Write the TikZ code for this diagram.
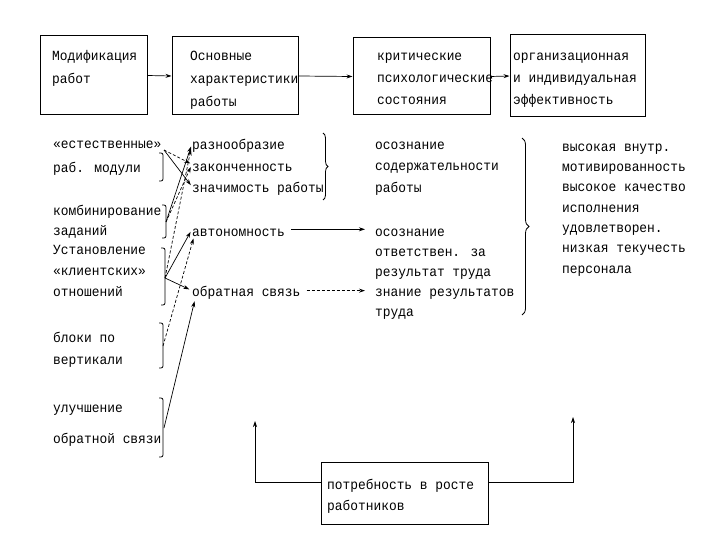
\documentclass[tikz,border=0pt]{standalone}
\usepackage{fontspec}
\newfontfamily\tw[FakeStretch=0.92]{Liberation Mono}
\newcommand{\fl}{\rule{0pt}{14pt}}
\usetikzlibrary{arrows.meta,decorations.pathreplacing}
\begin{document}
\begin{tikzpicture}[x=1pt,y=-1pt,
  txt/.style={anchor=north west, inner sep=0pt, align=left,
    font=\tw\fontsize{14}{#1}\selectfont},
  txt/.default=21,
  box/.style={draw, line width=1pt, inner sep=0pt},
  arr/.style={-{Stealth[length=6pt,width=4pt]}, line width=0.7pt},
  dsh/.style={dash pattern=on 3pt off 2pt},
  brk/.style={line width=0.8pt, rounded corners=2pt},
  brc/.style={line width=0.8pt, decorate, decoration={brace, amplitude=#1}}
]
\useasboundingbox (0,0) rectangle (720,540);

% top boxes
\node[box, minimum width=107pt, minimum height=79pt] (b1) at (93.5,75.5) {};
\node[box, minimum width=126pt, minimum height=78pt] (b2) at (235,76) {};
\node[box, minimum width=137pt, minimum height=77pt] (b3) at (421.5,76.5) {};
\node[box, minimum width=135pt, minimum height=82pt] (b4) at (577.5,76) {};
\node[txt=23] (t1) at (52,46) {\fl Модификация\\работ};
\node[txt=23] (t2) at (190,46) {\fl Основные\\характеристики\\работы};
\node[txt=22] (t3) at (377,46) {\fl критические\\психологические\\состояния};
\node[txt=22] (t4) at (513,46) {\fl организационная\\и индивидуальная\\эффективность};
\draw[arr] (b1.east) -- (b2.west);
\draw[arr] (b2.east) -- (b3.west);
\draw[arr] (b3.east) -- (b4.west);

% left column
\node[txt=24] (l1) at (53,134) {\fl «естественные»\\раб. модули};
\node[txt=20] (l2) at (53,201) {\fl комбинирование\\заданий};
\node[txt=21] (l3) at (53,240) {\fl Установление\\«клиентских»\\отношений};
\node[txt=22] (l4) at (53,328) {\fl блоки по\\вертикали};
\node[txt] (l5a) at (53,398) {\fl улучшение};
\node[txt] (l5b) at (53,429) {\fl обратной связи};

\draw[brk] (159,153) -- (163,153) -- (163,181) -- (159,181);
\draw[brk] (162,205) -- (166,205) -- (166,238) -- (162,238);
\draw[brk] (161,248) -- (165,248) -- (165,305) -- (161,305);
\draw[brk] (159,323) -- (163,323) -- (163,368) -- (159,368);
\draw[brk] (159,398) -- (163,398) -- (163,457) -- (159,457);
\coordinate (g1) at (164,150);
\coordinate (g2) at (166,222);
\coordinate (g3) at (165,278);
\coordinate (g4) at (163,346);
\coordinate (g5) at (164,428);

% characteristics
\node[txt] (raz) at (192,135) {\fl разнообразие};
\node[txt] (zak) at (192,157) {\fl законченность};
\node[txt] (zna) at (192,178) {\fl значимость работы};
\node[txt] (avt) at (192,222) {\fl автономность};
\node[txt] (obr) at (192,282) {\fl обратная связь};
\draw[brc=5pt] (323,133) -- (323,200);

% connectors from the left groups
\draw[arr, dsh, shorten >=2pt] (g1) -- (zak.west);
\draw[arr, shorten >=2pt] (g1) -- (zna.west);
\draw[arr, shorten >=3pt] (g2) -- (raz.west);
\draw[arr, dsh, shorten >=3pt] (g2) -- (zak.west);
\draw[arr, dsh, shorten >=6pt] (g3) -- (raz.west);
\draw[arr, shorten >=3pt] (g3) -- (avt.west);
\draw[arr, shorten >=3pt] (g3) -- (obr.west);
\draw[arr, dsh, shorten >=2pt] (g4) -- ([xshift=2pt]avt.south west);
\draw[arr, shorten >=2pt] (g5) -- ([xshift=3pt]obr.south west);

% psychological states
\node[txt=21.5] (p1) at (375,135) {\fl осознание\\содержательности\\работы};
\node[txt=20] (p2a) at (375,222) {\fl осознание\\ответствен. за\\результат труда};
\node[txt=20] (p2b) at (375,282) {\fl знание результатов\\труда};
\draw[arr, shorten <=6pt, shorten >=10pt] (avt.east) -- (avt.east -| p2a.west);
\draw[arr, dsh, shorten <=6pt, shorten >=10pt] (obr.east) -- (obr.east -| p2b.west);
\draw[brc=7pt] (522,138) -- (522,315);

% outcomes
\node[txt=20.3] (out) at (562,137) {\fl высокая внутр.\\мотивированность\\высокое качество\\исполнения\\удовлетворен.\\низкая текучесть\\персонала};

% bottom box
\node[box, minimum width=167pt, minimum height=62pt] (bot) at (404.5,493) {};
\node[txt] (tb) at (327,475) {\fl потребность в росте\\работников};
\coordinate (upL) at (255,421);
\coordinate (upR) at (573,417);
\draw[arr] ([yshift=11pt]bot.west) -| (upL);
\draw[arr] ([yshift=11pt]bot.east) -| (upR);
\end{tikzpicture}
\end{document}
